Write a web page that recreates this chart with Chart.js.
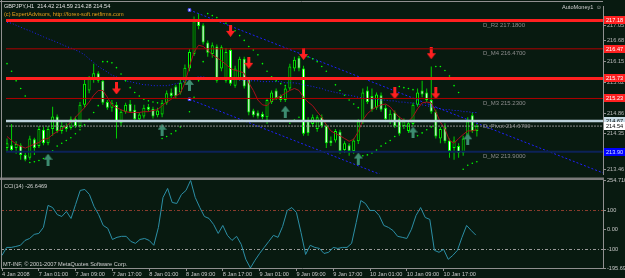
<!DOCTYPE html>
<html lang="en">
<head>
<meta charset="UTF-8">
<title>GBPJPY,H1</title>
<style>
  html, body { margin: 0; padding: 0; background: #081a10; overflow: hidden; }
  #wrap { position: relative; width: 625px; height: 278px; }
  canvas { position: absolute; left: 0; }
  #main { top: 0; }
  #cci { top: 176px; }
</style>
</head>
<body>
<div id="wrap">
  <canvas id="main" width="625" height="180"></canvas>
  <canvas id="cci" width="625" height="102"></canvas>
</div>
<script src="https://cdn.jsdelivr.net/npm/chart.js"></script>
<script>
const FONT = '"Liberation Sans", Arial, sans-serif';

// H1 bars, 4 Jan 2008 -> 10/11 Jan 2008
const opens = [213.99,214.06,213.99,214.06,213.82,213.75,214.21,214.04,214.45,214.11,
  214.47,214.78,214.42,214.54,214.49,214.71,214.54,215.07,215.43,215.69,
  215.86,215.67,215.14,215.00,215.07,214.61,214.90,215.09,214.95,214.71,
  214.78,215.02,214.97,214.81,214.83,215.12,215.38,215.53,215.38,215.62,
  215.98,216.34,217.20,217.06,216.63,216.34,216.53,215.98,215.67,216.44,
  215.55,215.74,216.22,215.72,214.93,214.88,214.85,214.76,215.14,215.43,
  215.29,215.19,215.48,215.98,216.25,215.98,214.66,214.59,214.47,214.76,
  214.54,214.18,214.18,214.40,213.94,214.06,213.92,214.16,214.64,215.43,
  215.29,215.00,215.31,215.00,214.66,214.88,214.71,214.54,214.42,214.59,
  215.07,215.43,215.38,215.19,214.90,214.23,214.52,214.18,213.99,214.04,
  213.87,214.28,214.81,214.42];
const highs = [214.23,214.59,214.16,214.11,213.87,214.30,214.25,214.54,214.52,214.54,
  215.02,214.83,214.64,214.61,214.78,214.78,215.14,215.72,215.79,216.10,
  215.91,215.72,215.19,215.19,215.14,214.95,215.12,215.19,215.07,214.88,
  215.07,215.09,215.02,215.00,215.19,215.43,215.48,215.57,215.72,216.08,
  216.46,217.28,217.35,217.11,216.68,216.63,216.58,216.56,216.49,216.49,
  216.05,216.27,216.27,215.74,214.97,214.93,214.90,215.24,215.43,215.48,
  215.33,215.53,216.10,216.27,216.29,216.05,214.76,214.83,214.81,214.83,
  214.59,214.28,214.47,214.45,214.16,214.11,214.23,214.71,215.48,215.53,
  215.48,215.38,215.38,215.07,214.95,214.93,214.78,214.73,214.69,215.12,
  215.48,215.67,215.48,216.03,214.95,214.52,214.61,214.23,214.28,214.11,
  214.30,214.76,214.88,214.59];
const lows = [213.92,213.90,213.85,213.70,213.66,213.70,213.82,213.99,214.06,214.06,
  214.30,214.37,214.35,214.40,214.45,214.49,214.49,215.00,215.36,215.62,
  215.62,215.07,214.95,214.90,214.23,214.54,214.85,214.88,214.66,214.66,
  214.73,214.90,214.73,214.76,214.76,215.07,215.24,215.24,215.33,215.57,
  215.91,216.29,216.96,216.58,216.27,216.25,215.62,215.91,215.62,215.55,
  215.50,215.67,215.48,214.81,214.76,214.73,214.71,214.59,215.09,215.19,
  215.14,215.14,215.43,215.91,215.91,214.30,214.30,214.52,214.40,214.49,
  213.99,214.04,214.13,213.85,213.87,213.80,213.85,214.09,214.59,215.09,
  214.90,214.95,214.90,214.66,214.59,214.49,214.30,214.47,214.37,214.54,
  215.02,215.26,215.14,214.85,214.23,214.11,214.11,213.75,213.70,213.75,
  213.80,214.23,214.37,214.28];
const closes = [214.11,213.94,214.09,213.82,213.70,214.23,213.99,214.47,214.11,214.47,
  214.78,214.42,214.54,214.47,214.71,214.54,215.07,215.60,215.72,215.86,
  215.67,215.12,215.00,215.12,214.64,214.90,215.07,214.90,214.71,214.83,
  215.00,214.95,214.78,214.93,215.12,215.36,215.29,215.29,215.62,216.00,
  216.39,217.16,217.04,216.63,216.37,216.56,215.67,216.51,216.39,215.60,
  215.98,216.22,215.53,214.88,214.81,214.78,214.76,215.19,215.38,215.24,
  215.19,215.48,216.03,216.20,215.98,214.35,214.37,214.76,214.76,214.54,
  214.11,214.11,214.42,213.92,214.11,213.92,214.18,214.66,215.38,215.14,
  214.95,215.33,214.95,214.71,214.85,214.54,214.35,214.66,214.61,215.07,
  215.38,215.33,215.19,214.90,214.28,214.47,214.16,213.92,214.18,213.87,
  214.23,214.66,214.42,214.54];

// fast moving average (dark red)
const maFast = [214.28,214.18,214.09,214.04,213.99,214.04,214.09,214.13,214.21,214.23,
  214.33,214.40,214.47,214.54,214.64,214.76,214.88,215.00,215.14,215.31,
  215.43,215.43,215.26,215.07,215.00,214.95,214.90,214.88,214.88,214.88,
  214.90,214.90,214.93,214.95,215.05,215.14,215.21,215.29,215.36,215.62,
  216.03,216.39,216.56,216.53,216.44,216.32,216.25,216.17,216.08,215.98,
  215.93,215.91,215.86,215.62,215.43,215.19,215.07,215.05,215.17,215.24,
  215.29,215.36,215.43,215.48,215.43,215.26,215.14,215.05,214.90,214.76,
  214.57,214.42,214.35,214.30,214.23,214.16,214.21,214.40,214.69,214.85,
  214.95,215.02,215.07,215.09,215.02,214.88,214.76,214.69,214.66,214.78,
  214.97,215.12,215.14,215.12,214.90,214.64,214.47,214.18,214.11,214.23,
  214.33,214.42,214.42,214.45];
// slow moving average (blue, dotted)
const maSlow = [217.13,217.11,217.06,217.01,216.96,216.92,216.87,216.82,216.77,216.72,
  216.68,216.63,216.58,216.53,216.49,216.44,216.39,216.32,216.22,216.13,
  216.03,215.96,215.89,215.81,215.77,215.72,215.67,215.65,215.62,215.60,
  215.57,215.57,215.55,215.55,215.55,215.55,215.57,215.60,215.62,215.67,
  215.72,215.74,215.77,215.77,215.74,215.74,215.74,215.72,215.72,215.72,
  215.72,215.69,215.69,215.67,215.67,215.67,215.65,215.65,215.65,215.65,
  215.65,215.62,215.62,215.62,215.60,215.57,215.55,215.53,215.50,215.48,
  215.43,215.41,215.38,215.36,215.33,215.31,215.29,215.26,215.24,215.24,
  215.21,215.21,215.19,215.19,215.17,215.17,215.14,215.14,215.12,215.12,
  215.09,215.07,215.05,215.02,215.00,214.97,214.95,214.95,214.93,214.93,
  214.90,214.90,214.88,214.88];
// parabolic SAR dots
const sar = [216.10,215.91,215.67,215.48,215.29,213.63,213.65,213.68,213.73,213.80,
  213.92,214.04,214.11,214.18,214.25,214.35,214.45,214.57,214.71,214.88,
  215.05,216.15,216.15,216.12,216.00,215.84,215.67,215.50,215.38,215.29,
  215.21,215.17,215.14,215.12,214.23,214.28,214.35,214.42,214.52,214.66,
  214.90,215.26,215.67,216.15,217.35,217.30,217.25,217.18,217.11,217.01,
  216.92,216.80,216.68,216.53,216.44,216.32,216.10,215.91,215.77,215.67,
  215.60,215.55,214.61,214.69,214.76,216.29,216.27,216.22,216.15,216.03,
  215.91,215.72,215.57,215.43,215.31,215.19,215.09,215.00,213.80,213.82,
  213.87,213.94,214.04,214.11,214.18,214.28,215.53,215.50,215.48,215.45,
  214.30,214.37,214.45,214.52,216.03,216.03,215.93,215.79,215.55,215.38,
  213.46,213.56,213.61,213.65];
// CCI(14)
const cci = [-131,-90,-90,-85,-79,-54,-44,-23,-18,13,
  126,115,79,69,95,59,131,203,208,182,
  121,79,23,8,-49,-38,-33,-33,-59,-69,
  -49,-44,-54,-79,13,167,213,141,136,182,
  203,254.71,167,115,69,59,28,-18,23,-28,
  -54,-33,-74,-151,-195.69,-156,-121,-90,-59,-28,
  -38,18,100,115,90,-13,-126,-79,-90,-95,
  -121,-115,-90,-95,-90,-90,-69,38,151,136,
  100,100,74,23,13,-3,-33,-38,-44,3,
  74,115,64,54,-105,-115,-100,-151,-131,-105,
  -38,23,-3,-26.6469];

// signal arrows: bar index and price
const sellBars = [24, 49, 53, 65, 85, 93, 94];
const sellPrices = [215.48, 216.92, 216.12, 216.34, 215.36, 216.36, 215.36];
const buyBars = [9, 34, 40, 61, 77, 89, 101];
const buyPrices = [213.70, 214.45, 215.57, 214.90, 213.73, 214.38, 214.21];

// trend channel lines: [startBar, startPrice, endBar, endPrice]
const channelUpper = [40, 217.44, 130.65, 213.37];
const channelLower = [40, 215.21, 130.65, 211.14];

// horizontal levels
const levels = [217.18, 216.47, 215.73, 215.23, 214.67, 214.54, 213.90];
const levelNames = ['D_R2 217.1800', 'D_M4 216.4700', '', 'D_M3 215.2300', 'D_Pivot 214.6700', '', 'D_M2 213.9000'];

const priceTicks = [217.05, 216.68, 216.15, 215.62, 214.86, 214.35, 213.84, 213.46];
const cciTicks = [-195.692, -100, 0, 100, 254.7108];
const cciTickLabels = ['-195.692', '-100', '0.00', '100', '254.7108'];
const cciLevels = [100, -100];
const timeBars = [0, 8, 16, 24, 32, 40, 48, 56, 64, 72, 80, 88, 96];
const timeLabels = ['4 Jan 2008', '7 Jan 01:00', '7 Jan 09:00', '7 Jan 17:00', '8 Jan 01:00', '8 Jan 09:00',
  '8 Jan 17:00', '9 Jan 01:00', '9 Jan 09:00', '9 Jan 17:00', '10 Jan 01:00', '10 Jan 09:00', '10 Jan 17:00'];

// looks
const levelLook = [
  { color: '#ff2020', width: 3, box: '#ff2020', text: '#ffffff' },
  { color: '#b00000', width: 1, box: '#ff2020', text: '#ffffff' },
  { color: '#ff2020', width: 3, box: '#ff2020', text: '#ffffff' },
  { color: '#b00000', width: 1, box: '#ff2020', text: '#ffffff' },
  { color: '#bcd2dc', width: 2.5, box: '#c8dce6', text: '#000000' },
  { color: '#8c8c8c', width: 1, dash: [2, 1], box: '#ffffff', text: '#000000' },
  { color: '#0c2258', width: 2, box: '#0000ff', text: '#d0e0ff' }
];
const XMIN = -0.22, XMAX = 130.65;
const SMALL = '5.6px ' + FONT;

function makeArrow(color, down) {
  const c = document.createElement('canvas');
  c.width = 9; c.height = 12;
  const g = c.getContext('2d');
  g.fillStyle = color;
  g.beginPath();
  if (down) {
    g.moveTo(3, 0); g.lineTo(6, 0); g.lineTo(6, 6); g.lineTo(9, 6);
    g.lineTo(4.5, 12); g.lineTo(0, 6); g.lineTo(3, 6);
  } else {
    g.moveTo(4.5, 0); g.lineTo(9, 6); g.lineTo(6, 6); g.lineTo(6, 12);
    g.lineTo(3, 12); g.lineTo(3, 6); g.lineTo(0, 6);
  }
  g.closePath();
  g.fill();
  return c;
}

const idx = opens.map((_, i) => i);
const pts = arr => idx.map(i => ({ x: i, y: arr[i] }));

// lines, labels and frame for the price pane
const pricePlugin = {
  id: 'pricePane',
  afterDatasetsDraw(chart) {
    const { ctx, chartArea: a, scales: { y } } = chart;
    ctx.save();
    ctx.beginPath();
    ctx.rect(a.left, a.top - 2, a.right - a.left, a.bottom - a.top + 2);
    ctx.clip();
    levels.forEach((v, k) => {
      const st = levelLook[k];
      const py = y.getPixelForValue(v);
      ctx.strokeStyle = st.color;
      ctx.lineWidth = st.width;
      ctx.setLineDash(st.dash || []);
      ctx.beginPath();
      ctx.moveTo(a.left, py);
      ctx.lineTo(a.right, py);
      ctx.stroke();
    });
    ctx.setLineDash([]);
    ctx.font = '6px ' + FONT;
    ctx.fillStyle = '#8c8c8c';
    ctx.textBaseline = 'middle';
    levels.forEach((v, k) => {
      if (levelNames[k]) ctx.fillText(levelNames[k], a.left + 477, y.getPixelForValue(v) + 5);
    });
    ctx.restore();
  },
  afterDraw(chart) {
    const { ctx, chartArea: a, scales: { y } } = chart;
    ctx.save();
    // frame
    ctx.strokeStyle = '#909090';
    ctx.lineWidth = 1;
    ctx.beginPath();
    ctx.moveTo(0, 1.5); ctx.lineTo(a.right, 1.5);
    ctx.moveTo(1.5, 0); ctx.lineTo(1.5, 180);
    ctx.stroke();
    ctx.fillStyle = '#7a7a7a';
    ctx.fillRect(0, 177.5, a.right + 1, 2.5);
    // price boxes on the axis
    ctx.font = SMALL;
    ctx.textBaseline = 'middle';
    levels.forEach((v, k) => {
      const st = levelLook[k];
      const py = Math.round(y.getPixelForValue(v));
      ctx.fillStyle = st.box;
      ctx.fillRect(a.right + 1, py - 4, 22, 8);
      ctx.fillStyle = st.text;
      ctx.fillText(v.toFixed(2), a.right + 3, py + 0.5);
    });
    // header texts
    const n = opens.length - 1;
    ctx.fillStyle = '#e0e0e0';
    ctx.fillText('GBPJPY,H1  ' + [opens[n], highs[n], lows[n], closes[n]].map(v => v.toFixed(2)).join(' '), 4, 6);
    ctx.fillStyle = '#e8a018';
    ctx.fillText('(c) ExpertAdvisors, http://forex-soft.netfirms.com', 4, 14);
    ctx.fillStyle = '#d0d0d0';
    ctx.fillText('AutoMoney1', 562, 7);
    ctx.fillText('\u263A', 596, 7);
    ctx.restore();
  }
};

new Chart(document.getElementById('main'), {
  type: 'bar',
  data: {
    datasets: [
      { type: 'line', data: sellBars.map((b, k) => ({ x: b, y: sellPrices[k] })), showLine: false,
        pointStyle: makeArrow('#ff2020', true), pointRadius: 5, order: 1 },
      { type: 'line', data: buyBars.map((b, k) => ({ x: b, y: buyPrices[k] })), showLine: false,
        pointStyle: makeArrow('#3d8c70', false), pointRadius: 5, order: 1 },
      { type: 'line', data: pts(sar), showLine: false, pointRadius: 0.8, pointBorderWidth: 0,
        pointBackgroundColor: '#00ff00', order: 3 },
      { type: 'line', data: pts(maFast), borderColor: '#a8101c', borderWidth: 1, pointRadius: 0, order: 4 },
      { type: 'line', data: pts(maSlow), borderColor: '#2020ff', borderWidth: 1, borderDash: [1, 2], pointRadius: 0, order: 5 },
      { type: 'line', data: [{ x: channelUpper[0], y: channelUpper[1] }, { x: channelUpper[2], y: channelUpper[3] }],
        borderColor: '#2020ff', borderWidth: 1, borderDash: [2, 2], pointRadius: [1.8, 0], pointStyle: 'rect',
        pointBackgroundColor: '#ffffff', pointBorderColor: '#4040ff', order: 5 },
      { type: 'line', data: [{ x: channelLower[0], y: channelLower[1] }, { x: channelLower[2], y: channelLower[3] }],
        borderColor: '#2020ff', borderWidth: 1, borderDash: [2, 2], pointRadius: [1.8, 0], pointStyle: 'rect',
        pointBackgroundColor: '#ffffff', pointBorderColor: '#4040ff', order: 5 },
      { data: idx.map(i => ({ x: i, y: [opens[i], closes[i]] })),
        backgroundColor: idx.map(i => closes[i] >= opens[i] ? '#000000' : '#ffffff'),
        borderColor: '#00ff00', borderWidth: 1, borderSkipped: false, barThickness: 3,
        grouped: false, inflateAmount: 0, order: 9 },
      { data: idx.map(i => ({ x: i, y: [lows[i], highs[i]] })),
        backgroundColor: '#00d000', borderWidth: 0, barThickness: 1,
        grouped: false, inflateAmount: 0, order: 10 }
    ]
  },
  options: {
    responsive: false,
    animation: false,
    events: [],
    layout: { padding: { left: 1, top: 2, right: 0, bottom: 3 } },
    plugins: { legend: { display: false }, tooltip: { enabled: false } },
    scales: {
      x: { type: 'linear', display: false, min: XMIN, max: XMAX, offset: false },
      y: {
        position: 'right', min: 213.343, max: 217.54,
        afterBuildTicks: s => { s.ticks = priceTicks.map(v => ({ value: v })); },
        afterFit: s => { s.width = 22; },
        ticks: { color: '#b8b8b8', padding: 1, font: { size: 5.6, family: FONT }, callback: v => v.toFixed(2) },
        grid: { drawOnChartArea: false, drawTicks: true, tickLength: 3, color: '#909090' },
        border: { display: true, color: '#909090' }
      }
    }
  },
  plugins: [pricePlugin]
});

// CCI pane
const cciPlugin = {
  id: 'cciPane',
  beforeDatasetsDraw(chart) {
    const { ctx, chartArea: a, scales: { y } } = chart;
    ctx.save();
    ctx.lineWidth = 1;
    ctx.setLineDash([3, 2, 1, 2]);
    cciLevels.forEach((v, k) => {
      const py = Math.round(y.getPixelForValue(v)) + 0.5;
      ctx.strokeStyle = k === 0 ? '#8a3c2c' : '#9a9a9a';
      ctx.beginPath();
      ctx.moveTo(a.left, py);
      ctx.lineTo(a.right, py);
      ctx.stroke();
    });
    ctx.restore();
  },
  afterDraw(chart) {
    const { ctx, chartArea: a } = chart;
    ctx.save();
    ctx.strokeStyle = '#909090';
    ctx.beginPath();
    ctx.moveTo(1.5, 0); ctx.lineTo(1.5, a.bottom);
    ctx.stroke();
    ctx.font = SMALL;
    ctx.textBaseline = 'middle';
    ctx.fillStyle = '#d0d0d0';
    ctx.fillText('CCI(14) ' + cci[cci.length - 1].toFixed(4), 4, 10);
    ctx.fillText('MT-INF, \u00A9 2001-2007 MetaQuotes Software Corp.', 3, 88);
    ctx.restore();
  }
};

new Chart(document.getElementById('cci'), {
  type: 'line',
  data: {
    datasets: [{ data: pts(cci), borderColor: '#2c8fa6', borderWidth: 1, pointRadius: 0 }]
  },
  options: {
    responsive: false,
    animation: false,
    events: [],
    layout: { padding: { left: 1, top: 4, right: 0, bottom: 0 } },
    plugins: { legend: { display: false }, tooltip: { enabled: false } },
    scales: {
      x: {
        type: 'linear', min: XMIN, max: XMAX, offset: false,
        afterBuildTicks: s => { s.ticks = timeBars.map(v => ({ value: v })); },
        afterFit: s => { s.height = 10; },
        ticks: { autoSkip: false, maxRotation: 0, minRotation: 0, align: 'start', padding: 0,
          color: '#c8c8c8', font: { size: 5.6, family: FONT },
          callback: v => timeLabels[timeBars.indexOf(v)] },
        grid: { drawOnChartArea: false, drawTicks: true, tickLength: 3, color: '#909090' },
        border: { display: true, color: '#909090' }
      },
      y: {
        position: 'right', min: -195.692, max: 254.7108,
        afterBuildTicks: s => { s.ticks = cciTicks.map(v => ({ value: v })); },
        afterFit: s => { s.width = 22; },
        ticks: { color: '#c8c8c8', padding: 1, font: { size: 5.6, family: FONT },
          callback: v => cciTickLabels[cciTicks.indexOf(v)] },
        grid: { drawOnChartArea: false, drawTicks: true, tickLength: 3, color: '#909090' },
        border: { display: true, color: '#909090' }
      }
    }
  },
  plugins: [cciPlugin]
});
</script>
</body>
</html>
